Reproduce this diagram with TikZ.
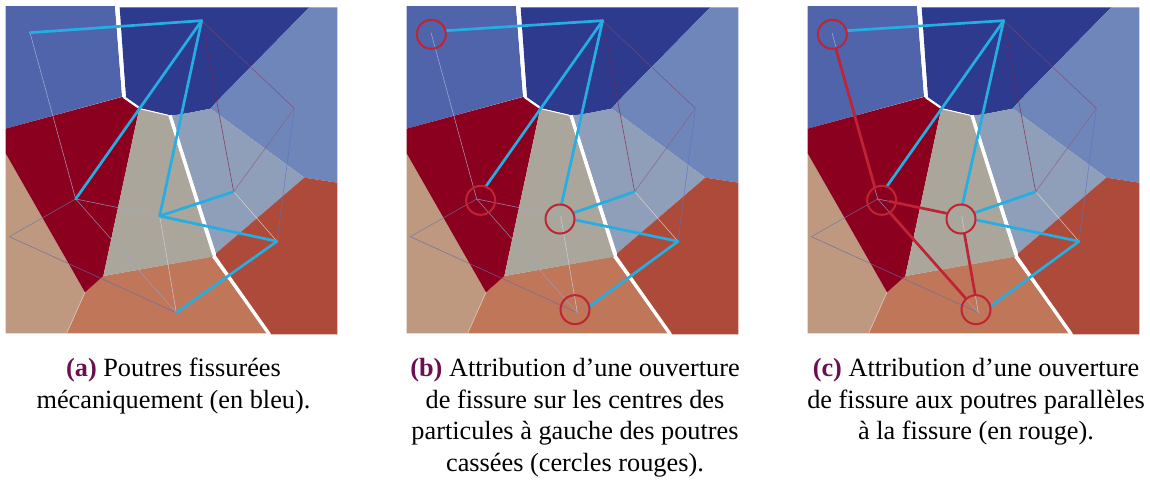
\documentclass[tikz,border=0pt]{standalone}
\usepackage{fontspec}
\setmainfont{Liberation Serif}
\definecolor{cBlueTL}{HTML}{4F64AB}
\definecolor{cNavy}{HTML}{2E3A8E}
\definecolor{cBlueR}{HTML}{6E86BA}
\definecolor{cGreyBlue}{HTML}{8F9FB9}
\definecolor{cBrick}{HTML}{AD4A39}
\definecolor{cOrange}{HTML}{BF7659}
\definecolor{cTan}{HTML}{BF9880}
\definecolor{cDarkRed}{HTML}{8B001E}
\definecolor{cGrey}{HTML}{ABA69C}
\definecolor{beamBlue}{HTML}{24AEE4}
\definecolor{beamRed}{HTML}{BE2433}
\definecolor{capPurple}{HTML}{6B0F4F}
\tikzset{
  region/.style={draw=none},
  crack/.style={draw=white,line width=3.4pt,line join=round},
  thinbeam/.style={line width=0.55pt,opacity=0.8},
  brokenbeam/.style={draw=beamBlue,line width=2.7pt,line cap=round},
  parallelbeam/.style={draw=beamRed,line width=2.7pt},
  marker/.style={circle,draw=beamRed,line width=2pt,minimum size=29pt,inner sep=0pt,fill=none},
  caption/.style={anchor=north,align=center,font=\fontsize{26.3pt}{31.6pt}\selectfont,inner sep=0pt}
}
\newcommand{\capttag}[1]{{\bfseries\color{capPurple}(#1)}}
% #1 prefix
\newcommand{\basepanel}[1]{%
  \fill[cBlueTL,region] (17,18)--(345,18)--(366,290)--(17,386)--cycle;
  \fill[cNavy,region] (359,22)--(928,22)--(650,305)--(632,326)--(560,340)--(515,347)--(420,325)--(378,293)--cycle;
  \fill[cBlueR,region] (928,22)--(1012,22)--(1012,548)--(913,533)--(632,326)--(650,305)--cycle;
  \fill[cGreyBlue,region] (515,347)--(560,340)--(632,326)--(913,533)--(648,760)--cycle;
  \fill[cBrick,region] (913,533)--(1012,548)--(1012,1003)--(813,1003)--(648,770)--(648,760)--cycle;
  \fill[cOrange,region] (310,828)--(635,770)--(803,1000)--(200,1000)--(255,877)--cycle;
  \fill[cTan,region] (17,460)--(255,877)--(200,1000)--(17,1000)--cycle;
  \fill[cDarkRed,region] (17,386)--(366,291)--(418,325)--(310,828)--(255,877)--(17,460)--cycle;
  \fill[cGrey,region] (418,325)--(505,345)--(640,770)--(310,828)--cycle;
  \draw[cTan!55!white,line width=0.6pt] (200,1000)--(255,877);
  \draw[crack] (350,18)--(372,290);
  \draw[crack,line width=2.2pt] (372,292)--(415,322);
  \draw[crack,line width=1pt] (415,325)--(505,346);
  \draw[crack] (510,346)--(642,765);
  \draw[crack] (642,768)--(808,1003);
  \coordinate (#1A) at (90,98);
  \coordinate (#1B) at (605,62);
  \coordinate (#1C) at (227,597);
  \coordinate (#1D) at (479,648);
  \coordinate (#1E) at (701,575);
  \coordinate (#1F) at (831,724);
  \coordinate (#1G) at (529,938);
  \coordinate (#1H) at (883,325);
  \coordinate (#1I) at (28,710);
  \draw[thinbeam,color=cBlueTL!45!white] (#1A)--(#1C);
  \draw[thinbeam,color=cNavy!50!beamRed!90!white] (#1B)--(#1H);
  \draw[thinbeam,color=cDarkRed!75!cBlueR] (#1B)--(#1E);
  \draw[thinbeam,color=beamRed!45!cBlueR] (#1H)--(#1E);
  \draw[thinbeam,color=cBlueR!85!blue] (#1H)--(#1F);
  \draw[thinbeam,color=cBlueR!90!black] (#1C)--(#1I);
  \draw[thinbeam,color=cNavy!75!white] (#1I)--(#1G);
  \draw[thinbeam,color=cBlueR!70!white] (#1C)--(#1D);
  \draw[thinbeam,color=cBlueR!75!white] (#1C)--(#1G);
  \draw[thinbeam,color=cBlueR!35!white] (#1D)--(#1G);
  \draw[thinbeam,color=cTan!35!white] (#1E)--(#1F);
}
% the beams and circles shared by panels (b) and (c)
\newcommand{\markedpanel}[1]{%
  \coordinate (#1e1) at (135,92);
  \coordinate (#1e2) at (254,560);
  \coordinate (#1e3) at (481,615);
  \coordinate (#1e4) at (519,638);
  \coordinate (#1e5) at (524,660);
  \coordinate (#1e6) at (567,918);
  \draw[brokenbeam] (#1e1)--(#1B);
  \draw[brokenbeam] (#1e2)--(#1B);
  \draw[brokenbeam] (#1e3)--(#1B);
  \draw[brokenbeam] (#1e4)--(#1E);
  \draw[brokenbeam] (#1e5)--(#1F);
  \draw[brokenbeam] (#1e6)--(#1F);
  \node[marker] (#1mA) at (91,103) {};
  \node[marker] (#1mC) at (239,601) {};
  \node[marker] (#1mD) at (477,657) {};
  \node[marker] (#1mG) at (522,929) {};
}
\begin{document}
\begin{tikzpicture}[x=1pt,y=1pt]
\useasboundingbox (0,0) rectangle (1150,-479);
% panel a
\begin{scope}[shift={(0pt,0pt)},x=0.33333pt,y=-0.33333pt]
  \basepanel{a}
  \draw[brokenbeam] (aA)--(aB);
  \draw[brokenbeam] (aC)--(aB);
  \draw[brokenbeam] (aD)--(aB);
  \draw[brokenbeam] (aD)--(aE);
  \draw[brokenbeam] (aD)--(aF);
  \draw[brokenbeam] (aG)--(aF);
\end{scope}
% panel b
\begin{scope}[shift={(401pt,0pt)},x=0.33333pt,y=-0.33333pt]
  \basepanel{b}
  \markedpanel{b}
\end{scope}
% panel c
\begin{scope}[shift={(802pt,0pt)},x=0.33333pt,y=-0.33333pt]
  \basepanel{c}
  \markedpanel{c}
  \coordinate (cp1) at (102,147);
  \coordinate (cp2) at (218,561);
  \coordinate (cp3) at (262,604);
  \coordinate (cp4) at (434,640);
  \coordinate (cp5) at (261,635);
  \coordinate (cp6) at (491,895);
  \coordinate (cp7) at (487,700);
  \coordinate (cp8) at (520,887);
  \draw[parallelbeam] (cp1)--(cp2);
  \draw[parallelbeam] (cp3)--(cp4);
  \draw[parallelbeam] (cp5)--(cp6);
  \draw[parallelbeam] (cp7)--(cp8);
\end{scope}
\node[caption] (capA) at (173.5,-358) {\capttag{a} Poutres fissurées\\mécaniquement (en bleu).};
\node[caption] (capB) at (575,-358) {\capttag{b} Attribution d’une ouverture\\de fissure sur les centres des\\particules à gauche des poutres\\cassées (cercles rouges).};
\node[caption] (capC) at (976,-358) {\capttag{c} Attribution d’une ouverture\\de fissure aux poutres parallèles\\à la fissure (en rouge).};
\end{tikzpicture}
\end{document}
